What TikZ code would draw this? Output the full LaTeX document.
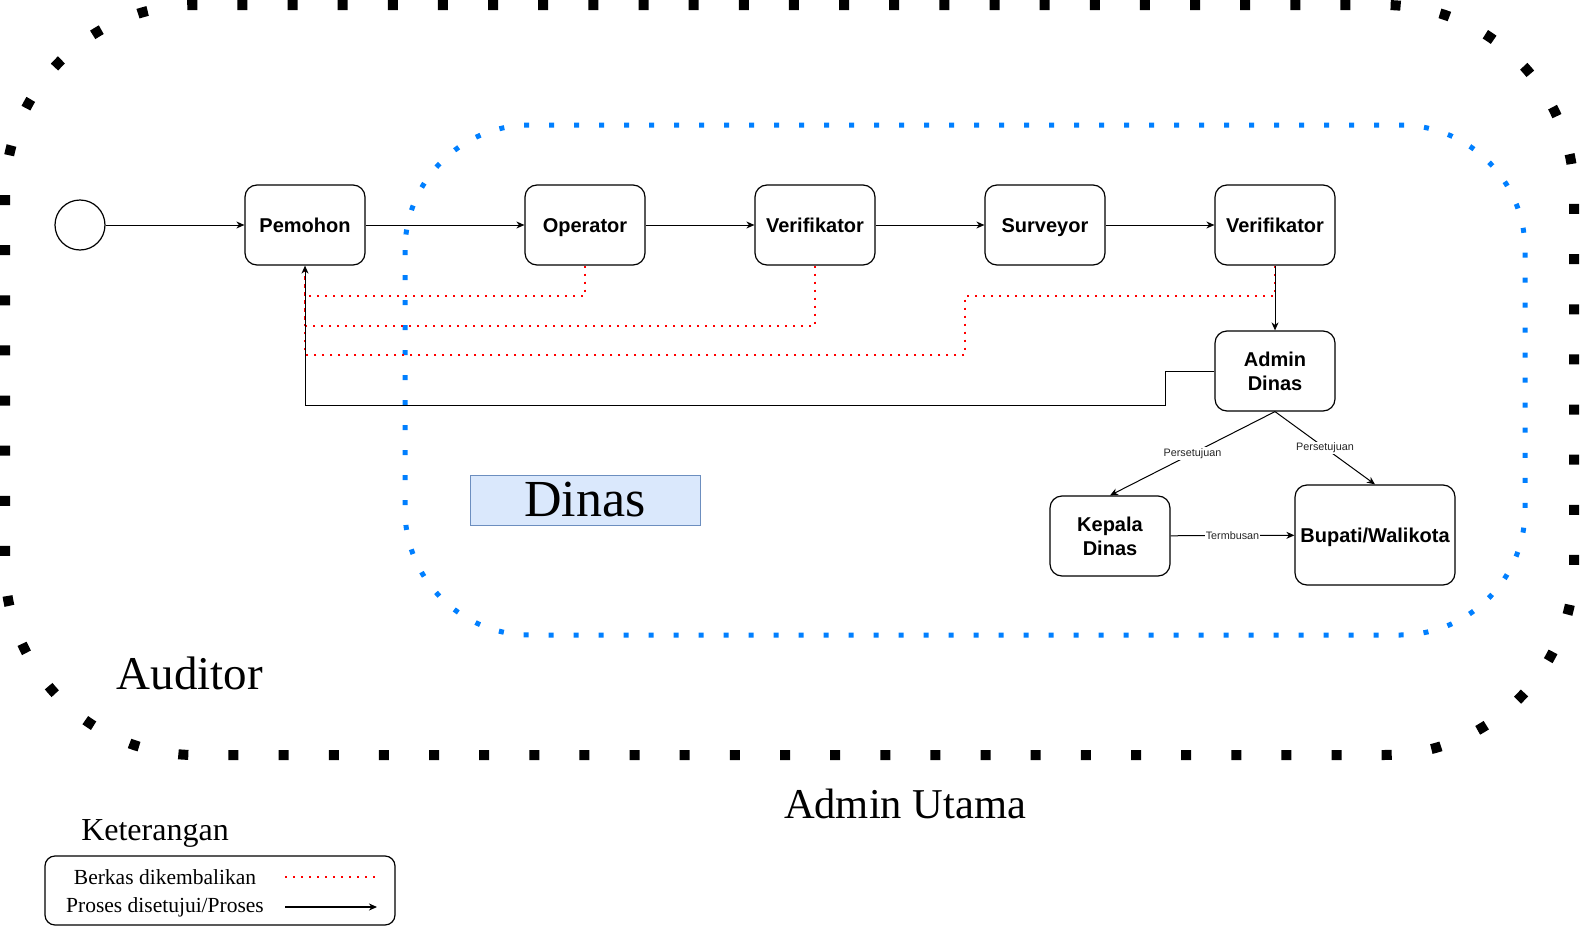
\documentclass[tikz,border=0pt]{standalone}
\usepackage{fontspec}
\setmainfont{Liberation Serif}
\setsansfont{Liberation Sans}
\usetikzlibrary{arrows.meta}
\definecolor{bluedot}{RGB}{0,127,255}
\definecolor{dinasfill}{RGB}{218,232,252}
\definecolor{dinasline}{RGB}{108,142,191}
\begin{document}
\begin{tikzpicture}[x=1pt,y=-1pt,
 box/.style={draw, rounded corners=12pt, line width=1.2pt, fill=white, minimum width=120pt, minimum height=80pt, font=\sffamily\bfseries\fontsize{20}{24}\selectfont, align=center, inner sep=0pt},
 oneline/.style={text height=18pt, text depth=4pt},
 arr/.style={line width=1pt, -{Stealth[length=8pt,width=7pt,inset=2.5pt]}},
 ret/.style={red, line width=2pt, dash pattern=on 2pt off 6pt},
 lbl/.style={font=\sffamily\fontsize{10.8}{12}\selectfont, fill=white, inner sep=1pt, text=black!85}]
\useasboundingbox (0,0) rectangle (1580,926);
\draw[line width=10pt, dash pattern=on 10pt off 40.14pt, rounded corners=190pt] (5,5) rectangle (1574,755);
\draw[bluedot, line width=5pt, dash pattern=on 5pt off 20pt, rounded corners=125pt] (405,125) rectangle (1525,635);

\node[draw=dinasline, fill=dinasfill, minimum width=230pt, minimum height=50pt, inner sep=0pt, font=\fontsize{52}{56}\selectfont] (dinas) at (585,500) {Dinas};
\node[font=\fontsize{47}{50}\selectfont, anchor=base] (auditor) at (190,689) {Auditor};
\node[font=\fontsize{42.5}{46}\selectfont, anchor=base] (adminutama) at (905,818) {Admin Utama};
\node[font=\fontsize{32}{34}\selectfont, anchor=base] (ket) at (155,840) {Keterangan};

\node[circle, draw, line width=1.2pt, minimum size=50pt, inner sep=0pt, fill=white] (start) at (80,225) {};
\node[box, oneline] (pem) at (305,225) {Pemohon};
\node[box, oneline] (op) at (585,225) {Operator};
\node[box, oneline] (v1) at (815,225) {Verifikator};
\node[box, oneline] (sur) at (1045,225) {Surveyor};
\node[box, oneline] (v2) at (1275,225) {Verifikator};
\node[box] (ad) at (1275,371) {Admin\\Dinas};
\node[box] (kd) at (1110,536) {Kepala\\Dinas};
\node[box, oneline, minimum width=160pt, minimum height=100pt] (bw) at (1375,535) {Bupati/Walikota};

\coordinate (c2) at (965,355);
\draw[ret] (op.south) -- ++(0,30) -| (pem.south);
\draw[ret] (v1.south) -- ++(0,60) -| (pem.south);
\draw[ret] (v2.south) -- ++(0,30) -| (c2) -| (pem.south);

\draw[arr] (start) -- (pem);
\draw[arr] (pem) -- (op);
\draw[arr] (op) -- (v1);
\draw[arr] (v1) -- (sur);
\draw[arr] (sur) -- (v2);
\draw[arr] (v2) -- (ad);
\coordinate (r1) at (1165,405);
\draw[arr] (ad.west) -| (r1) -| (pem.south);
\draw[arr] (ad.south) -- node[lbl] {Persetujuan} (kd.north);
\draw[arr] (ad.south) -- node[lbl] {Persetujuan} (bw.north);
\draw[arr] (kd) -- node[lbl] {Termbusan} (bw);

\node[draw, rounded corners=10pt, line width=1.2pt, minimum width=350pt, minimum height=69pt] (leg) at (220,890.5) {};
\node[font=\fontsize{21.5}{24}\selectfont] (t1) at (165,877) {Berkas dikembalikan};
\node[font=\fontsize{21.5}{24}\selectfont] (t2) at (165,907) {Proses disetujui/Proses};
\coordinate (l1a) at (285,877);
\coordinate (l1b) at (377,877);
\coordinate (l2a) at (285,907);
\coordinate (l2b) at (377,907);
\draw[ret] (l1a) -- (l1b);
\draw[arr, line width=1.5pt] (l2a) -- (l2b);
\end{tikzpicture}
\end{document}
